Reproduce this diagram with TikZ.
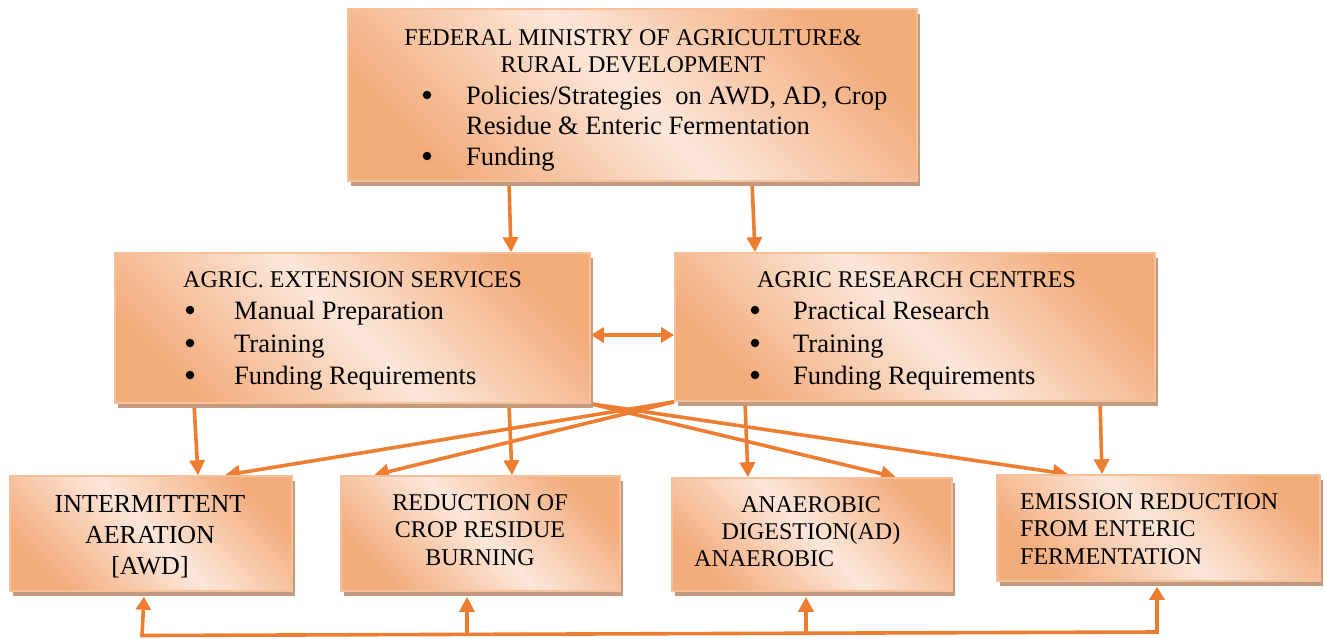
\documentclass[tikz,border=0pt]{standalone}
\usepackage{fontspec}
\setmainfont{Liberation Serif}
\usetikzlibrary{arrows.meta,shadows,calc}
\definecolor{dk}{RGB}{243,172,124}
\definecolor{lt}{RGB}{252,231,218}
\definecolor{edgec}{RGB}{246,192,154}
\definecolor{shad}{RGB}{196,154,126}
\definecolor{conc}{RGB}{237,125,49}
\pgfdeclarelayer{bg}
\pgfsetlayers{bg,main}
\tikzset{
  box/.style={rectangle, draw=edgec, line width=1.6pt, top color=dk, bottom color=dk,
    middle color=lt, shading angle=-45,
    general shadow={fill=shad, shadow xshift=3pt, shadow yshift=-5pt}, inner sep=0pt},
  hd/.style={inner sep=0pt, font=\fontsize{24}{28}\selectfont},
  bt/.style={inner sep=0pt, font=\fontsize{26.5}{32}\selectfont},
  bg1/.style={inner sep=0pt, font=\fontsize{26}{31}\selectfont},
  dot/.style={circle, fill=black, inner sep=0pt, minimum size=8.5pt},
  conn/.style={draw=conc, line width=3.6pt},
  arr/.style={conn, -{Triangle[length=15pt,width=15pt]}},
  darr/.style={conn, {Triangle[length=13pt,width=15pt]}-{Triangle[length=13pt,width=15pt]}},
}
\begin{document}
\begin{tikzpicture}[x=1pt,y=-1pt]
\useasboundingbox (0,0) rectangle (1325,638);
% boxes
\node[box, minimum width=569pt, minimum height=172pt] (top) at (632.5,95) {};
\node[box, minimum width=475pt, minimum height=150pt] (ext) at (352.5,328) {};
\node[box, minimum width=480pt, minimum height=148pt] (res) at (915,327) {};
\node[box, minimum width=282pt, minimum height=115pt] (b1) at (151,533.5) {};
\node[box, minimum width=279pt, minimum height=115pt] (b2) at (480.5,533.5) {};
\node[box, minimum width=280pt, minimum height=113pt] (b3) at (812,534.5) {};
\node[box, minimum width=323pt, minimum height=106pt] (b4) at (1158.5,528) {};
% top box text
\node[hd, anchor=base] (t1) at (633,45) {FEDERAL MINISTRY OF AGRICULTURE\&};
\node[hd, anchor=base] (t2) at (633,72) {RURAL DEVELOPMENT};
\node[dot] (tb1) at (427,95) {};
\node[bt, anchor=base west] (t3) at (466,104) {Policies/Strategies\ \ on AWD, AD, Crop};
\node[bt, anchor=base west] (t4) at (466,134) {Residue \& Enteric Fermentation};
\node[dot] (tb2) at (427,156) {};
\node[bt, anchor=base west] (t5) at (466,165) {Funding};
% extension box text
\node[hd, anchor=base west] (e0) at (183,287) {AGRIC. EXTENSION SERVICES};
\node[dot] (eb1) at (190,310) {};
\node[bt, anchor=base west] (e1) at (234,319) {Manual Preparation};
\node[dot] (eb2) at (190,343) {};
\node[bt, anchor=base west] (e2) at (234,352) {Training};
\node[dot] (eb3) at (190,375) {};
\node[bt, anchor=base west] (e3) at (234,384) {Funding Requirements};
% research box text
\node[hd, anchor=base west] (r0) at (757,287) {AGRIC RESEARCH CENTRES};
\node[dot] (rb1) at (755,310) {};
\node[bt, anchor=base west] (r1) at (793,319) {Practical Research};
\node[dot] (rb2) at (755,343) {};
\node[bt, anchor=base west] (r2) at (793,352) {Training};
\node[dot] (rb3) at (755,375) {};
\node[bt, anchor=base west] (r3) at (793,384) {Funding Requirements};
% bottom boxes text
\node[bg1, anchor=base] (p1) at (150,512) {INTERMITTENT};
\node[bg1, anchor=base] (p2) at (150,543) {AERATION};
\node[bg1, anchor=base] (p3) at (150,574) {[AWD]};
\node[hd, anchor=base] (q1) at (480,510) {REDUCTION OF};
\node[hd, anchor=base] (q2) at (480,537.5) {CROP RESIDUE};
\node[hd, anchor=base] (q3) at (480,565) {BURNING};
\node[hd, anchor=base] (s1) at (811,512) {ANAEROBIC};
\node[hd, anchor=base] (s2) at (811,539) {DIGESTION(AD)};
\node[hd, anchor=base west] (s3) at (694,566) {ANAEROBIC};
\node[hd, anchor=base west] (u1) at (1020,509) {EMISSION REDUCTION};
\node[hd, anchor=base west] (u2) at (1020,536.5) {FROM ENTERIC};
\node[hd, anchor=base west] (u3) at (1020,564) {FERMENTATION};
% connectors
\begin{pgfonlayer}{bg}
\draw[arr] (509,0 |- top.south) -- (511,0 |- ext.north);
\draw[arr] (752,0 |- top.south) -- (755,0 |- res.north);
\draw[darr] (ext.east |- 0,335) -- (res.west |- 0,335);
\draw[arr] (194,0 |- ext.south) -- (198,0 |- b1.north);
\draw[arr] (509,0 |- ext.south) -- (512,0 |- b2.north);
\draw[arr] (ext.south east) -- (896,0 |- b3.north);
\draw[arr] (ext.south east) -- (1068,0 |- b4.north);
\draw[arr] (res.south west) -- (225,0 |- b1.north);
\draw[arr] (res.south west) -- (374,0 |- b2.north);
\draw[arr] (745,0 |- res.south) -- (748,0 |- b3.north);
\draw[arr] (1100,0 |- res.south) -- (1102,0 |- b4.north);
\coordinate (busL) at (142,635.5);
\coordinate (busR) at (1157,632);
\coordinate (busM1) at (467,634.5);
\coordinate (busM2) at (806,633.5);
\draw[darr, line join=miter] ($(144,0 |- b1.south)+(0,5)$) -- (busL) -- (busR) -- ($(1157,0 |- b4.south)+(0,5)$);
\draw[arr] (busM1) -- ($(467,0 |- b2.south)+(0,5)$);
\draw[arr] (busM2) -- ($(806,0 |- b3.south)+(0,5)$);
\end{pgfonlayer}
\end{tikzpicture}
\end{document}
